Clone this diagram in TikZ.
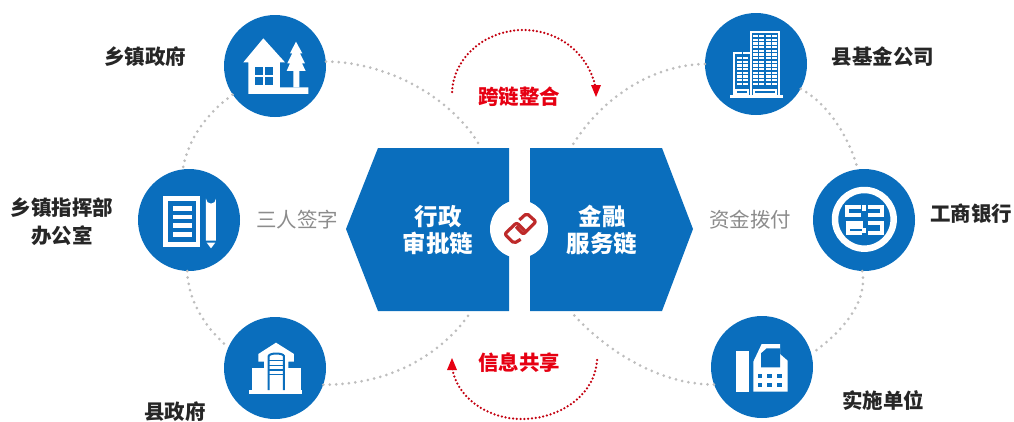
\documentclass[tikz,border=0pt]{standalone}
\usepackage{fontspec}
\newfontfamily\cjk{Noto Sans CJK SC}
\usetikzlibrary{arrows.meta}
\definecolor{cblue}{HTML}{0A6EBD}
\definecolor{cred}{HTML}{E60012}
\definecolor{cdark}{HTML}{262626}
\definecolor{cgrey}{HTML}{8C8C8C}
\definecolor{cdot}{HTML}{BEBEBE}
\definecolor{clink}{HTML}{BE2A2A}
\tikzset{
  hub/.style={circle,fill=cblue,minimum size=102pt,inner sep=0pt},
  hexa/.style={fill=cblue},
  lab/.style={font=\cjk\bfseries\fontsize{20.5}{28}\selectfont,text=cdark,align=center,inner sep=0pt},
  soft/.style={font=\cjk\fontsize{20.5}{26}\selectfont,text=cgrey,inner sep=0pt},
  inhex/.style={font=\cjk\bfseries\fontsize{23.5}{27}\selectfont,text=white,align=center,inner sep=0pt},
  redlab/.style={font=\cjk\bfseries\fontsize{20.5}{26}\selectfont,text=cred,inner sep=0pt},
  ring/.style={draw=cdot,line width=3pt,line cap=round,dash pattern=on 0pt off 6.4pt},
  redring/.style={draw=cred!85!black,line width=2.5pt,line cap=round,dash pattern=on 0pt off 3.8pt},
  zm/.style={x=0.3333pt,y=-0.3333pt},
  wl/.style={draw=white,line width=4pt,line cap=butt,line join=miter},
}
\begin{document}
\begin{tikzpicture}[x=1pt,y=-1pt]
\useasboundingbox (0,0) rectangle (1014,421);
% hubs
\node[hub] (tl) at (275,66) {};
\node[hub] (ml) at (189,220) {};
\node[hub] (bl) at (275,368) {};
\node[hub] (tr) at (756,64) {};
\node[hub] (mr) at (864,220) {};
\node[hub] (br) at (762,367) {};
% free ends on the hexagons
\coordinate (hlt) at (480,146);
\coordinate (hrt) at (572,146);
\coordinate (hlb) at (470,313);
\coordinate (hrb) at (572,313);
% dotted rings
\draw[ring] (tl.5) .. controls (385,62) and (450,95) .. (hlt);
\draw[ring] (tl.214) .. controls (205,115) and (188,140) .. (ml.97);
\draw[ring] (ml.-92) .. controls (188,300) and (205,328) .. (bl.156);
\draw[ring] (bl.-19) .. controls (395,385) and (445,350) .. (hlb);
\draw[ring] (tr.180) .. controls (650,65) and (600,100) .. (hrt);
\draw[ring] (tr.-29) .. controls (830,105) and (850,140) .. (mr.97);
\draw[ring] (mr.-92) .. controls (868,300) and (845,330) .. (br.15);
\draw[ring] (br.200) .. controls (660,385) and (605,350) .. (hrb);
% hexagons
\fill[hexa] (346,229) -- (378,148) -- (509,148) -- (509,311) -- (378,311) -- cycle;
\fill[hexa] (693,229) -- (662,148) -- (530,148) -- (530,311) -- (662,311) -- cycle;
\node[circle,fill=white,minimum size=58pt,inner sep=0pt] (link) at (519,229) {};
% link icon
\begin{scope}[shift={(490pt,-200pt)},zm]
\draw[clink,line width=3.2pt,rounded corners=2pt,line join=round] (88,60) -- (110,40) -- (138,65) -- (100,103) -- (78,80) ;
\draw[clink,line width=3.2pt,rounded corners=2pt,line join=round] (92,118) -- (72,130) -- (44,102) -- (80,68) -- (104,92) ;
\end{scope}
% red arcs
\coordinate (ra) at (452,92);
\coordinate (rb) at (523,30);
\coordinate (rc) at (596,90);
\coordinate (rd) at (597,360);
\coordinate (re) at (522,419);
\coordinate (rf) at (452,366);
\draw[redring] (ra) .. controls (454,55) and (488,30) .. (rb) .. controls (560,30) and (590,55) .. (rc);
\draw[redring] (rd) .. controls (595,395) and (560,419) .. (re) .. controls (485,419) and (455,395) .. (rf);
\fill[cred] (591,85) -- (601,85) -- (596,97) -- cycle;
\fill[cred] (447,370) -- (457,370) -- (452,358) -- cycle;
% texts
\node[lab] (t1) at (145,57) {乡镇政府};
\node[lab] (t2) at (62,222) {乡镇指挥部\\办公室};
\node[lab] (t3) at (175,412) {县政府};
\node[lab] (t4) at (883,57) {县基金公司};
\node[lab] (t5) at (971,214) {工商银行};
\node[lab] (t6) at (883,401) {实施单位};
\node[soft] (s1) at (297,220) {三人签字};
\node[soft] (s2) at (750,220) {资金拨付};
\node[inhex] (h1) at (438,230) {行政\\审批链};
\node[inhex] (h2) at (602,230) {金融\\服务链};
\node[redlab] (r1) at (519,97) {跨链整合};
\node[redlab] (r2) at (519,363) {信息共享};
% house icon
\begin{scope}[shift={(130pt,0pt)},zm]
\fill[white] (340,187) -- (400,115) -- (465,187) -- (450,187) -- (450,262) -- (535,262) -- (535,282) -- (355,282) -- (355,187) -- cycle;
\fill[cblue] (375,200) rectangle (428,255);
\draw[white,line width=2pt] (401,200) -- (401,255) (375,228) -- (428,228);
\fill[white] (498,125) -- (517,160) -- (510,160) -- (525,190) -- (516,190) -- (527,213) -- (508,213) -- (508,262) -- (490,262) -- (490,213) -- (470,213) -- (480,190) -- (472,190) -- (487,160) -- (480,160) -- cycle;
\end{scope}
% document icon
\begin{scope}[shift={(130pt,0pt)},zm]
\fill[white] (100,588) rectangle (210,740);
\fill[cblue] (115,603) rectangle (197,727);
\foreach \yy in {618,644,670,696} \fill[white] (128,\yy) rectangle (185,\yy+14);
\fill[white] (228,596) arc[start angle=180,end angle=0,radius=15] -- (258,722) -- (228,722) -- cycle;
\fill[white] (230,728) -- (256,728) -- (243,745) -- cycle;
\end{scope}
% county icon
\begin{scope}[shift={(240pt,-330pt)},zm]
\fill[white] (28,180) rectangle (187,192);
\fill[white] (35,115) rectangle (182,182);
\fill[white] (55,72) -- (108,38) -- (162,72) -- (162,95) -- (145,95) -- (145,180) -- (72,180) -- (72,95) -- (55,95) -- cycle;
\draw[cblue,line width=2pt] (86,180) -- (86,78) .. controls (90,68) and (128,68) .. (132,78) -- (132,180);
\draw[cblue,line width=1.5pt] (86,92) -- (132,92) (86,106) -- (132,106) (86,120) -- (132,120) (86,134) -- (132,134);
\end{scope}
% building icon
\begin{scope}[shift={(720pt,-20pt)},zm]
\fill[white] (30,226) rectangle (190,235);
\draw[white,line width=1.7pt] (92,226) -- (92,35) -- (178,35) -- (178,226);
\draw[white,line width=1.7pt] (92,100) -- (42,100) -- (42,226);
\foreach \xx in {100,138} {
  \foreach \yy in {45,56,...,190} \fill[white] (\xx,\yy) rectangle (\xx+32,\yy+7);
}
\foreach \yy in {111,122,...,190} \fill[white] (52,\yy) rectangle (84,\yy+7);
\foreach \xx in {67,115,153} \fill[cblue] (\xx,40) rectangle (\xx+2,200);
\fill[white] (45,208) rectangle (86,224);
\fill[cblue] (50,214) rectangle (81,218);
\fill[white] (100,208) rectangle (170,224);
\fill[cblue] (105,214) rectangle (165,218);
\end{scope}
% bank icon
\begin{scope}[shift={(825pt,-180pt)},zm]
\draw[white,line width=6.5pt] (118,118) circle[radius=88];
\draw[wl] (108,80) -- (66,80) -- (66,106) -- (108,106);
\draw[wl] (128,80) -- (170,80) -- (170,106) -- (128,106);
\draw[wl] (62,130) -- (108,130) -- (108,142) -- (68,142) -- (68,158) -- (110,158);
\draw[wl] (128,130) -- (172,130) -- (172,158) -- (128,158);
\draw[wl] (118,76) -- (118,92) (118,144) -- (118,160);
\end{scope}
% fax icon
\begin{scope}[shift={(725pt,-330pt)},zm]
\fill[white] (33,62) rectangle (72,185);
\fill[white] (85,95) -- (110,42) -- (165,42) -- (165,72) -- (188,92) -- (188,185) -- (85,185) -- cycle;
\fill[cblue] (108,112) -- (108,70) -- (125,55) -- (165,55) -- (165,112) -- cycle;
\foreach \xx in {98,127,156} \foreach \yy in {133,160} \fill[cblue] (\xx,\yy) rectangle (\xx+14,\yy+12);
\end{scope}
\end{tikzpicture}
\end{document}
